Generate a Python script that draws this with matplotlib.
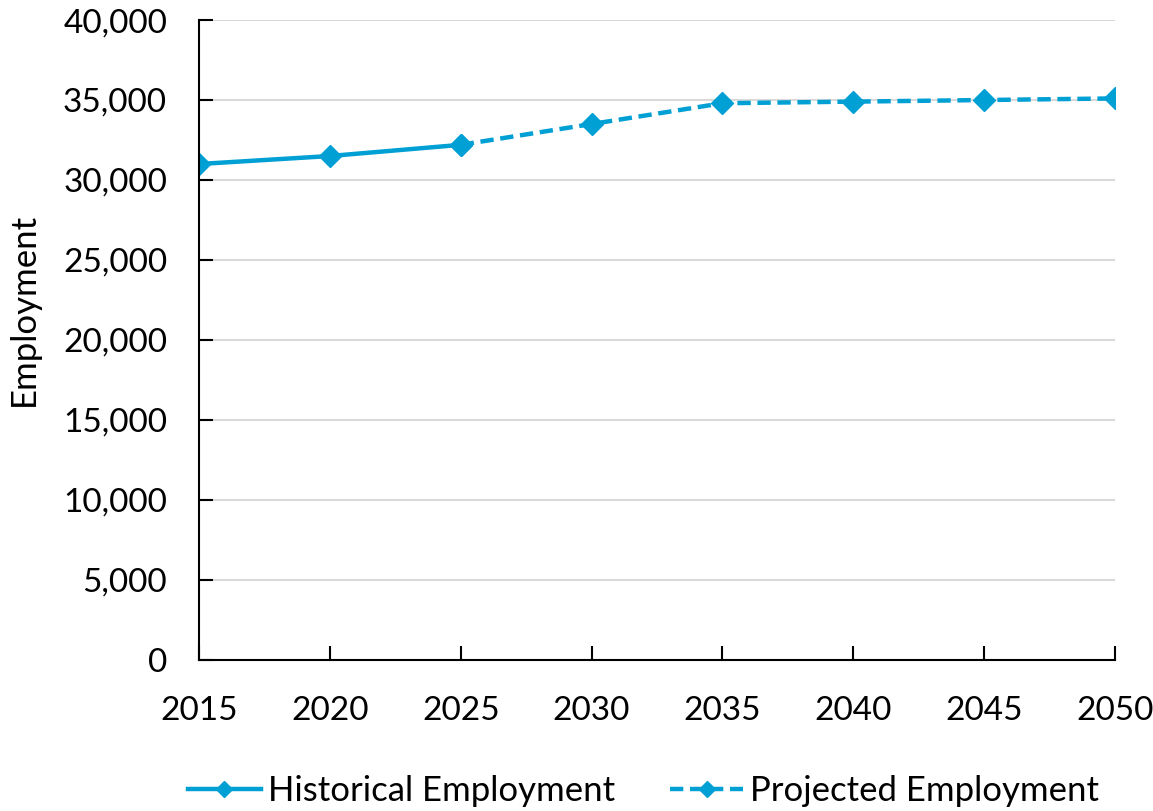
import matplotlib.pyplot as plt
from matplotlib.ticker import FuncFormatter

# data
hist_years = [2015, 2020, 2025]
hist_employment = [31000, 31500, 32200]
proj_years = [2025, 2030, 2035, 2040, 2045, 2050]
proj_employment = [32200, 33500, 34800, 34900, 35000, 35100]
x_ticks = [2015, 2020, 2025, 2030, 2035, 2040, 2045, 2050]
y_ticks = [0, 5000, 10000, 15000, 20000, 25000, 30000, 35000, 40000]

plt.rcParams['font.family'] = ['Lato', 'DejaVu Sans']
color = '#009FD4'

fig = plt.figure(figsize=(11.53, 8.11), dpi=100)
ax = fig.add_axes([0.1726, 0.1862, 0.7944, 0.7891])

ax.plot(hist_years, hist_employment, color=color, linewidth=3.2,
        marker='D', markersize=11.5, label='Historical Employment')
ax.plot(proj_years, proj_employment, color=color, linewidth=3.2,
        linestyle=(0, (3, 1.5)), marker='D', markersize=11.5,
        label='Projected Employment')

ax.set_xlim(2015, 2050)
ax.set_ylim(0, 40000)
ax.set_xticks(x_ticks)
ax.set_yticks(y_ticks)
ax.yaxis.set_major_formatter(FuncFormatter(lambda v, p: f'{int(v):,}'))
ax.tick_params(axis='both', direction='in', length=10, width=1.5,
               labelsize=24, color='black')
ax.tick_params(axis='x', pad=26)
ax.tick_params(axis='y', pad=23)
ax.grid(axis='y', color='#d9d9d9', linewidth=1.5)
ax.set_axisbelow(True)
for s in ['top', 'right']:
    ax.spines[s].set_visible(False)
for s in ['left', 'bottom']:
    ax.spines[s].set_linewidth(1.5)

for lbl in ax.get_xticklabels() + ax.get_yticklabels():
    lbl.set_clip_on(False)

ax.set_ylabel('Employment', fontsize=25)
ax.yaxis.set_label_coords(-0.174, 0.547)

fig.legend(loc='lower center', bbox_to_anchor=(0.558, -0.012), ncol=2,
           frameon=False, fontsize=25, handlelength=2.1, columnspacing=1.6,
           handletextpad=0.2, borderaxespad=0, markerscale=0.75)

fig.savefig('out.png', dpi=100)
